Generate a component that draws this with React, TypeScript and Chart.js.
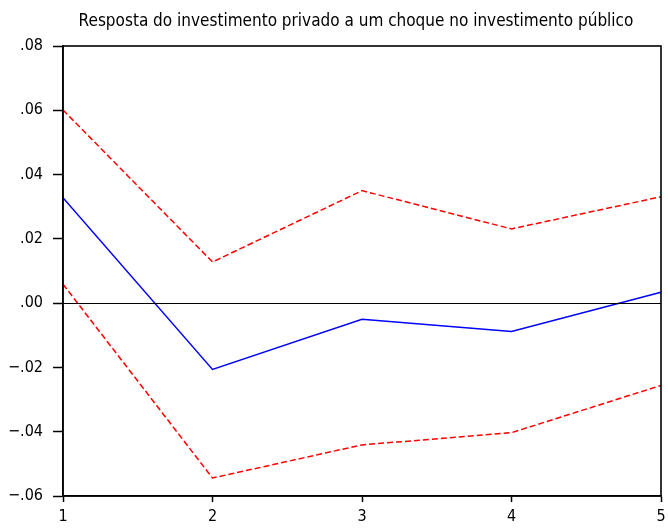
import React, { useEffect, useRef } from "react";
import { Chart, registerables } from "chart.js";

Chart.register(...registerables);

const periods = ["1", "2", "3", "4", "5"];
const response = [0.0328, -0.0206, -0.005, -0.0088, 0.0034];
const upperBand = [0.0601, 0.0128, 0.035, 0.0231, 0.0331];
const lowerBand = [0.0059, -0.0544, -0.0441, -0.0403, -0.0256];
const titleText = "Resposta do investimento privado a um choque no investimento público";

const FONT = '"DejaVu Sans Condensed", "Liberation Sans Narrow", "Noto Sans", sans-serif';

const framePlugin = {
  id: "frame",
  afterDatasetsDraw(chart: any) {
    const { ctx, chartArea, scales } = chart;
    ctx.save();
    const y0 = scales.y.getPixelForValue(0);
    ctx.strokeStyle = "#000";
    ctx.lineWidth = 1;
    ctx.beginPath();
    ctx.moveTo(chartArea.left, Math.round(y0) + 0.5);
    ctx.lineTo(chartArea.right, Math.round(y0) + 0.5);
    ctx.stroke();
    ctx.lineWidth = 1.6;
    ctx.strokeRect(chartArea.left, chartArea.top, chartArea.right - chartArea.left, chartArea.bottom - chartArea.top);
    ctx.fillStyle = "#000";
    ctx.font = "17px " + FONT;
    ctx.textAlign = "center";
    ctx.textBaseline = "middle";
    ctx.fillText(titleText, (chartArea.left + chartArea.right) / 2 - 6, 22);
    ctx.restore();
  },
};

export default function App() {
  const ref = useRef<HTMLCanvasElement | null>(null);
  useEffect(() => {
    if (!ref.current) return;
    const chart = new Chart(ref.current, {
      type: "line",
      data: {
        labels: periods,
        datasets: [
          {
            data: upperBand,
            borderColor: "#ff0000",
            borderWidth: 1.5,
            borderDash: [6, 3],
            pointRadius: 0,
            tension: 0,
            fill: false,
          },
          {
            data: lowerBand,
            borderColor: "#ff0000",
            borderWidth: 1.5,
            borderDash: [6, 3],
            pointRadius: 0,
            tension: 0,
            fill: false,
          },
          {
            data: response,
            borderColor: "#0000ff",
            borderWidth: 1.4,
            pointRadius: 0,
            tension: 0,
            fill: false,
          },
        ],
      },
      options: {
        animation: false,
        responsive: false,
        maintainAspectRatio: false,
        layout: { padding: { left: 0, right: 7, top: 46, bottom: 0 } },
        plugins: {
          legend: { display: false },
          tooltip: { enabled: false },
          title: { display: false },
        },
        scales: {
          x: {
            offset: false,
            grid: {
              drawOnChartArea: false,
              drawTicks: true,
              tickLength: 6,
              color: "#000",
              tickWidth: 1.5,
            },
            border: { display: true, color: "#000", width: 1.6 },
            ticks: {
              color: "#000",
              padding: 5,
              maxRotation: 0,
              font: { family: FONT, size: 16 },
            },
            afterFit(scale: any) {
              scale.height = 33;
              scale.paddingLeft = 0;
              scale.paddingRight = 0;
            },
          },
          y: {
            min: -0.06,
            max: 0.08,
            grid: {
              drawOnChartArea: false,
              drawTicks: true,
              tickLength: 10,
              color: "#000",
              tickWidth: 1.5,
            },
            border: { display: true, color: "#000", width: 1.6 },
            ticks: {
              stepSize: 0.02,
              color: "#000",
              padding: 10,
              font: { family: FONT, size: 16 },
              callback(value: any) {
                const v = Math.round(Number(value) * 100) / 100;
                const s = Math.abs(v).toFixed(2).replace(/^0/, "");
                return v < 0 ? "\u2212" + s : s;
              },
            },
            afterFit(scale: any) {
              scale.width = 63;
              scale.paddingTop = 0;
              scale.paddingBottom = 0;
            },
          },
        },
      },
      plugins: [framePlugin],
    } as any);
    return () => chart.destroy();
  }, []);
  return (
    <div style={{ position: "fixed", left: 0, top: 0, width: 668, height: 529, background: "#fff" }}>
      <canvas ref={ref} width={668} height={529} style={{ width: 668, height: 529 }} />
    </div>
  );
}
